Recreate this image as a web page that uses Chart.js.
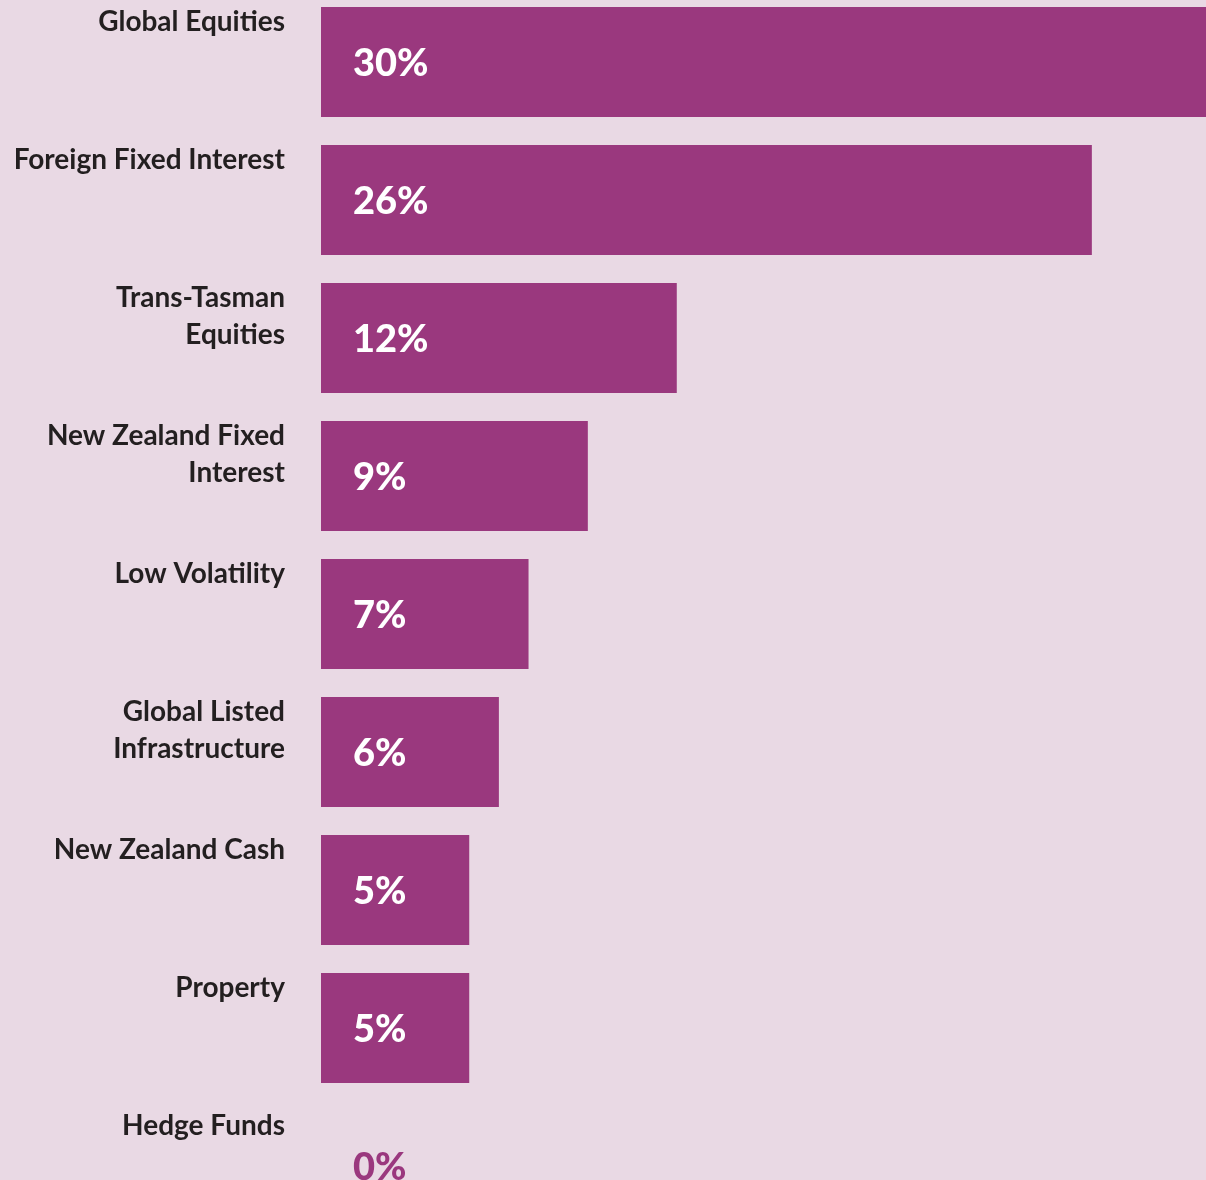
<!DOCTYPE html>
<html>
<head>
<meta charset="utf-8">
<script src="https://cdn.jsdelivr.net/npm/chart.js@4.4.1/dist/chart.umd.min.js"></script>
<style>
  html, body { margin: 0; padding: 0; background: #e9d9e4; overflow: hidden; }
  #wrap { position: relative; top: -7px; width: 1206px; height: 1242px; }
</style>
</head>
<body>
<div id="wrap"><canvas id="allocCanvas"></canvas></div>
<script>
const categories = [
  [`Global Equities`, ``],
  [`Foreign Fixed Interest`, ``],
  [`Trans-Tasman`, `Equities`],
  [`New Zealand Fixed`, `Interest`],
  [`Low Volatility`, ``],
  [`Global Listed`, `Infrastructure`],
  [`New Zealand Cash`, ``],
  [`Property`, ``],
  [`Hedge Funds`, ``],
]
const allocation = [30, 26, 12, 9, 7, 6, 5, 5, 0]

const PURPLE = `#9a387e`
const INK = `#231f20`

// percentage text inside each bar (0% sits on the background, so purple)
const valueLabels = {
  id: `valueLabels`,
  afterDatasetsDraw(chart) {
    const { ctx } = chart
    const meta = chart.getDatasetMeta(0)
    ctx.save()
    ctx.font = `900 38px Lato`
    ctx.textAlign = `left`
    ctx.textBaseline = `middle`
    meta.data.forEach((bar, i) => {
      const v = allocation[i]
      ctx.fillStyle = v > 0 ? `#ffffff` : PURPLE
      ctx.fillText(`${v}%`, bar.base + 32, bar.y + 2)
    })
    ctx.restore()
  },
}

new Chart(document.querySelector(`#allocCanvas`), {
  type: `bar`,
  data: {
    labels: categories,
    datasets: [
      {
        data: allocation,
        backgroundColor: PURPLE,
        borderWidth: 0,
        categoryPercentage: 1,
        barPercentage: 110 / 138,
      },
    ],
  },
  options: {
    indexAxis: `y`,
    responsive: true,
    maintainAspectRatio: false,
    animation: false,
    layout: { padding: 0 },
    scales: {
      x: { display: false, min: 0, max: 29.85 },
      y: {
        grid: { display: false, drawTicks: false },
        border: { display: false },
        // fixed axis width, and no extra room reserved for the shifted labels
        afterFit(scale) {
          scale.width = 321
          scale.paddingTop = 0
          scale.paddingBottom = 0
        },
        ticks: {
          autoSkip: false,
          padding: 36,
          labelOffset: -22,
          color: INK,
          font: { family: `Lato`, weight: `bold`, size: 28, lineHeight: 37 / 28 },
        },
      },
    },
    plugins: {
      legend: { display: false },
      tooltip: { enabled: false },
    },
  },
  plugins: [valueLabels],
})
</script>
</body>
</html>
